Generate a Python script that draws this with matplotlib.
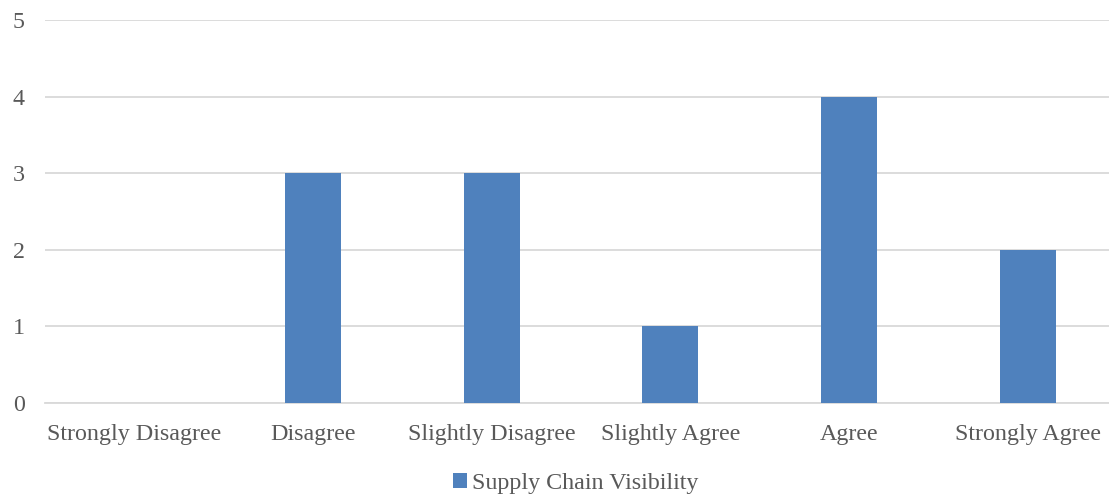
import matplotlib
matplotlib.use("Agg")
import matplotlib.pyplot as plt
from matplotlib.patches import Patch

categories = ["Strongly Disagree", "Disagree", "Slightly Disagree",
              "Slightly Agree", "Agree", "Strongly Agree"]
counts = [0, 3, 3, 1, 4, 2]
series_name = "Supply Chain Visibility"

plt.rcParams['font.family'] = ['Liberation Serif', 'DejaVu Serif']
text_color = "#595959"
bar_color = "#4F81BD"

fig = plt.figure(figsize=(11.09, 4.97), dpi=100)
ax = fig.add_axes([0.0402, 0.1891, 0.9675, 0.7706])

x = range(len(categories))
ax.bar(x, counts, width=0.313, color=bar_color, zorder=3)

ax.set_xlim(-0.5, len(categories) - 0.5)
ax.set_ylim(0, 5)
ax.set_yticks(range(6))
ax.set_xticks(list(x))
ax.set_xticklabels(categories)
ax.grid(axis="y", color="#D9D9D9", linewidth=1.3, zorder=0)
ax.tick_params(axis="both", length=0, labelsize=17.3, colors=text_color)
ax.tick_params(axis="x", pad=15)
ax.tick_params(axis="y", pad=23)
for label in ax.get_yticklabels():
    label.set_horizontalalignment("left")
for side in ["top", "right", "left"]:
    ax.spines[side].set_visible(False)
ax.spines["bottom"].set_color("#D9D9D9")
ax.spines["bottom"].set_linewidth(1.3)

handle = Patch(facecolor=bar_color, label=series_name)
fig.legend(handles=[handle], loc="center", bbox_to_anchor=(0.519, 0.028),
           frameon=False, fontsize=17.3, labelcolor=text_color,
           handlelength=0.6, handleheight=0.6, handletextpad=0.2)

fig.savefig("out.png", dpi=100)
